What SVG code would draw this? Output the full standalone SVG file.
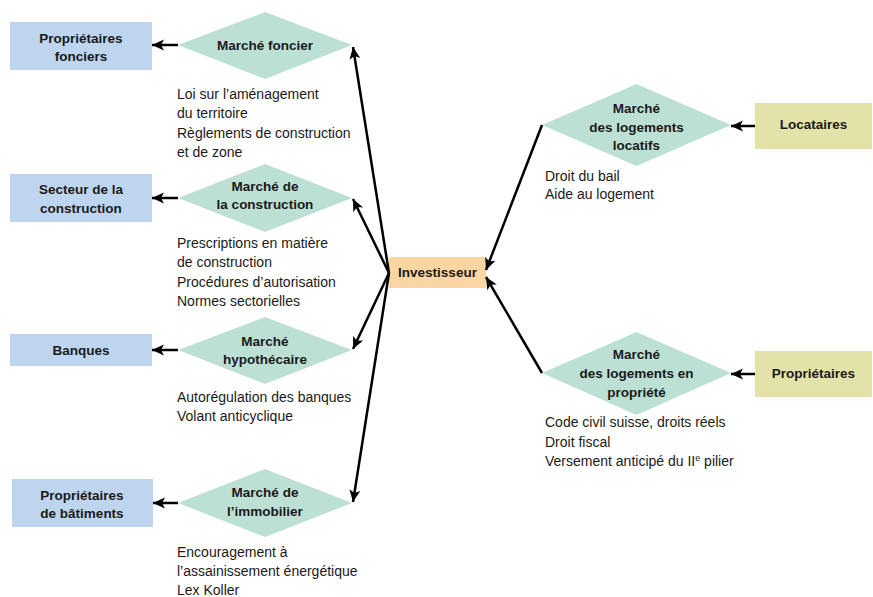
<svg xmlns="http://www.w3.org/2000/svg" width="873" height="597" viewBox="0 0 873 597">
<defs>
<marker id="ah" markerUnits="userSpaceOnUse" markerWidth="14" markerHeight="14" refX="12" refY="7" orient="auto" viewBox="0 0 14 14">
<path d="M0,1.5 L12,7 L0,12.5 L3,7 z" fill="#000"/>
</marker>
<style>
.box-b{fill:#bdd5ee}
.box-y{fill:#e3e2a9}
.box-o{fill:#fcd6a2}
.dia{fill:#bde0d5}
.lbl{font-family:"Liberation Sans",Arial,sans-serif;font-weight:bold;font-size:13.5px;fill:#1a1a1a;text-anchor:middle}
.note{font-family:"Liberation Sans",Arial,sans-serif;font-size:14px;fill:#1a1a1a}
.conn line{stroke:#000;stroke-width:2.5;fill:none;marker-end:url(#ah)}
</style>
</defs>
<rect width="873" height="597" fill="#fff"/>

<g id="proprietaires-fonciers"><rect class="box-b" x="10" y="22" width="142" height="48"/>
<text class="lbl" x="81" y="43">Propriétaires</text><text class="lbl" x="81" y="61">fonciers</text></g>
<g id="secteur-construction"><rect class="box-b" x="10" y="174" width="142" height="48"/>
<text class="lbl" x="81" y="194">Secteur de la</text><text class="lbl" x="81" y="213">construction</text></g>
<g id="banques"><rect class="box-b" x="10" y="334" width="142" height="32"/>
<text class="lbl" x="81" y="355">Banques</text></g>
<g id="proprietaires-batiments"><rect class="box-b" x="12" y="479" width="141" height="48"/>
<text class="lbl" x="82" y="500">Propriétaires</text><text class="lbl" x="82" y="518">de bâtiments</text></g>

<g id="marche-foncier"><polygon class="dia" points="178,45 265,12 352,45 265,79"/>
<text class="lbl" x="265" y="50">Marché foncier</text>
<text class="note" x="177" y="99">Loi sur l’aménagement</text>
<text class="note" x="177" y="118">du territoire</text>
<text class="note" x="177" y="138">Règlements de construction</text>
<text class="note" x="177" y="157">et de zone</text></g>

<g id="marche-construction"><polygon class="dia" points="178,198 265,164 352,198 265,232"/>
<text class="lbl" x="265" y="191">Marché de</text><text class="lbl" x="265" y="209">la construction</text>
<text class="note" x="177" y="248">Prescriptions en matière</text>
<text class="note" x="177" y="267">de construction</text>
<text class="note" x="177" y="287">Procédures d’autorisation</text>
<text class="note" x="177" y="306">Normes sectorielles</text></g>

<g id="marche-hypothecaire"><polygon class="dia" points="178,350 265,317 352,350 265,384"/>
<text class="lbl" x="265" y="346">Marché</text><text class="lbl" x="265" y="364">hypothécaire</text>
<text class="note" x="177" y="402">Autorégulation des banques</text>
<text class="note" x="177" y="421">Volant anticyclique</text></g>

<g id="marche-immobilier"><polygon class="dia" points="178,503 265,469 352,503 265,537"/>
<text class="lbl" x="265" y="497">Marché de</text><text class="lbl" x="265" y="516">l’immobilier</text>
<text class="note" x="177" y="557">Encouragement à</text>
<text class="note" x="177" y="576">l’assainissement énergétique</text>
<text class="note" x="177" y="595">Lex Koller</text></g>

<g id="investisseur"><rect class="box-o" x="389" y="257" width="97" height="31"/>
<text class="lbl" x="437.5" y="277">Investisseur</text></g>

<g id="marche-locatifs"><polygon class="dia" points="542,125 636.5,84 731,125 636.5,166"/>
<text class="lbl" x="636.5" y="113">Marché</text><text class="lbl" x="636.5" y="132">des logements</text><text class="lbl" x="636.5" y="150">locatifs</text>
<text class="note" x="545" y="181">Droit du bail</text>
<text class="note" x="545" y="199">Aide au logement</text></g>

<g id="marche-propriete"><polygon class="dia" points="542,373 636.5,332 731,373 636.5,415"/>
<text class="lbl" x="636.5" y="359">Marché</text><text class="lbl" x="636.5" y="378">des logements en</text><text class="lbl" x="636.5" y="397">propriété</text>
<text class="note" x="545" y="427">Code civil suisse, droits réels</text>
<text class="note" x="545" y="447">Droit fiscal</text>
<text class="note" x="545" y="466">Versement anticipé du II<tspan font-size="9" dy="-5">e</tspan><tspan dy="5"> pilier</tspan></text></g>

<g id="locataires"><rect class="box-y" x="755" y="103" width="117" height="46"/>
<text class="lbl" x="813.5" y="129">Locataires</text></g>
<g id="proprietaires"><rect class="box-y" x="755" y="351" width="117" height="46"/>
<text class="lbl" x="813.5" y="378">Propriétaires</text></g>

<g id="connectors" class="conn">
<line x1="178" y1="45" x2="152" y2="45"/>
<line x1="178" y1="198" x2="152" y2="198"/>
<line x1="178" y1="350" x2="152" y2="350"/>
<line x1="178" y1="503" x2="153" y2="503"/>
<line x1="389" y1="273" x2="353" y2="47"/>
<line x1="389" y1="273" x2="353" y2="199"/>
<line x1="389" y1="273" x2="353" y2="349"/>
<line x1="389" y1="273" x2="353" y2="502"/>
<line x1="542" y1="125" x2="486" y2="270"/>
<line x1="542" y1="373" x2="486" y2="277"/>
<line x1="755" y1="126" x2="731" y2="126"/>
<line x1="755" y1="374" x2="731" y2="374"/>
</g>
</svg>
